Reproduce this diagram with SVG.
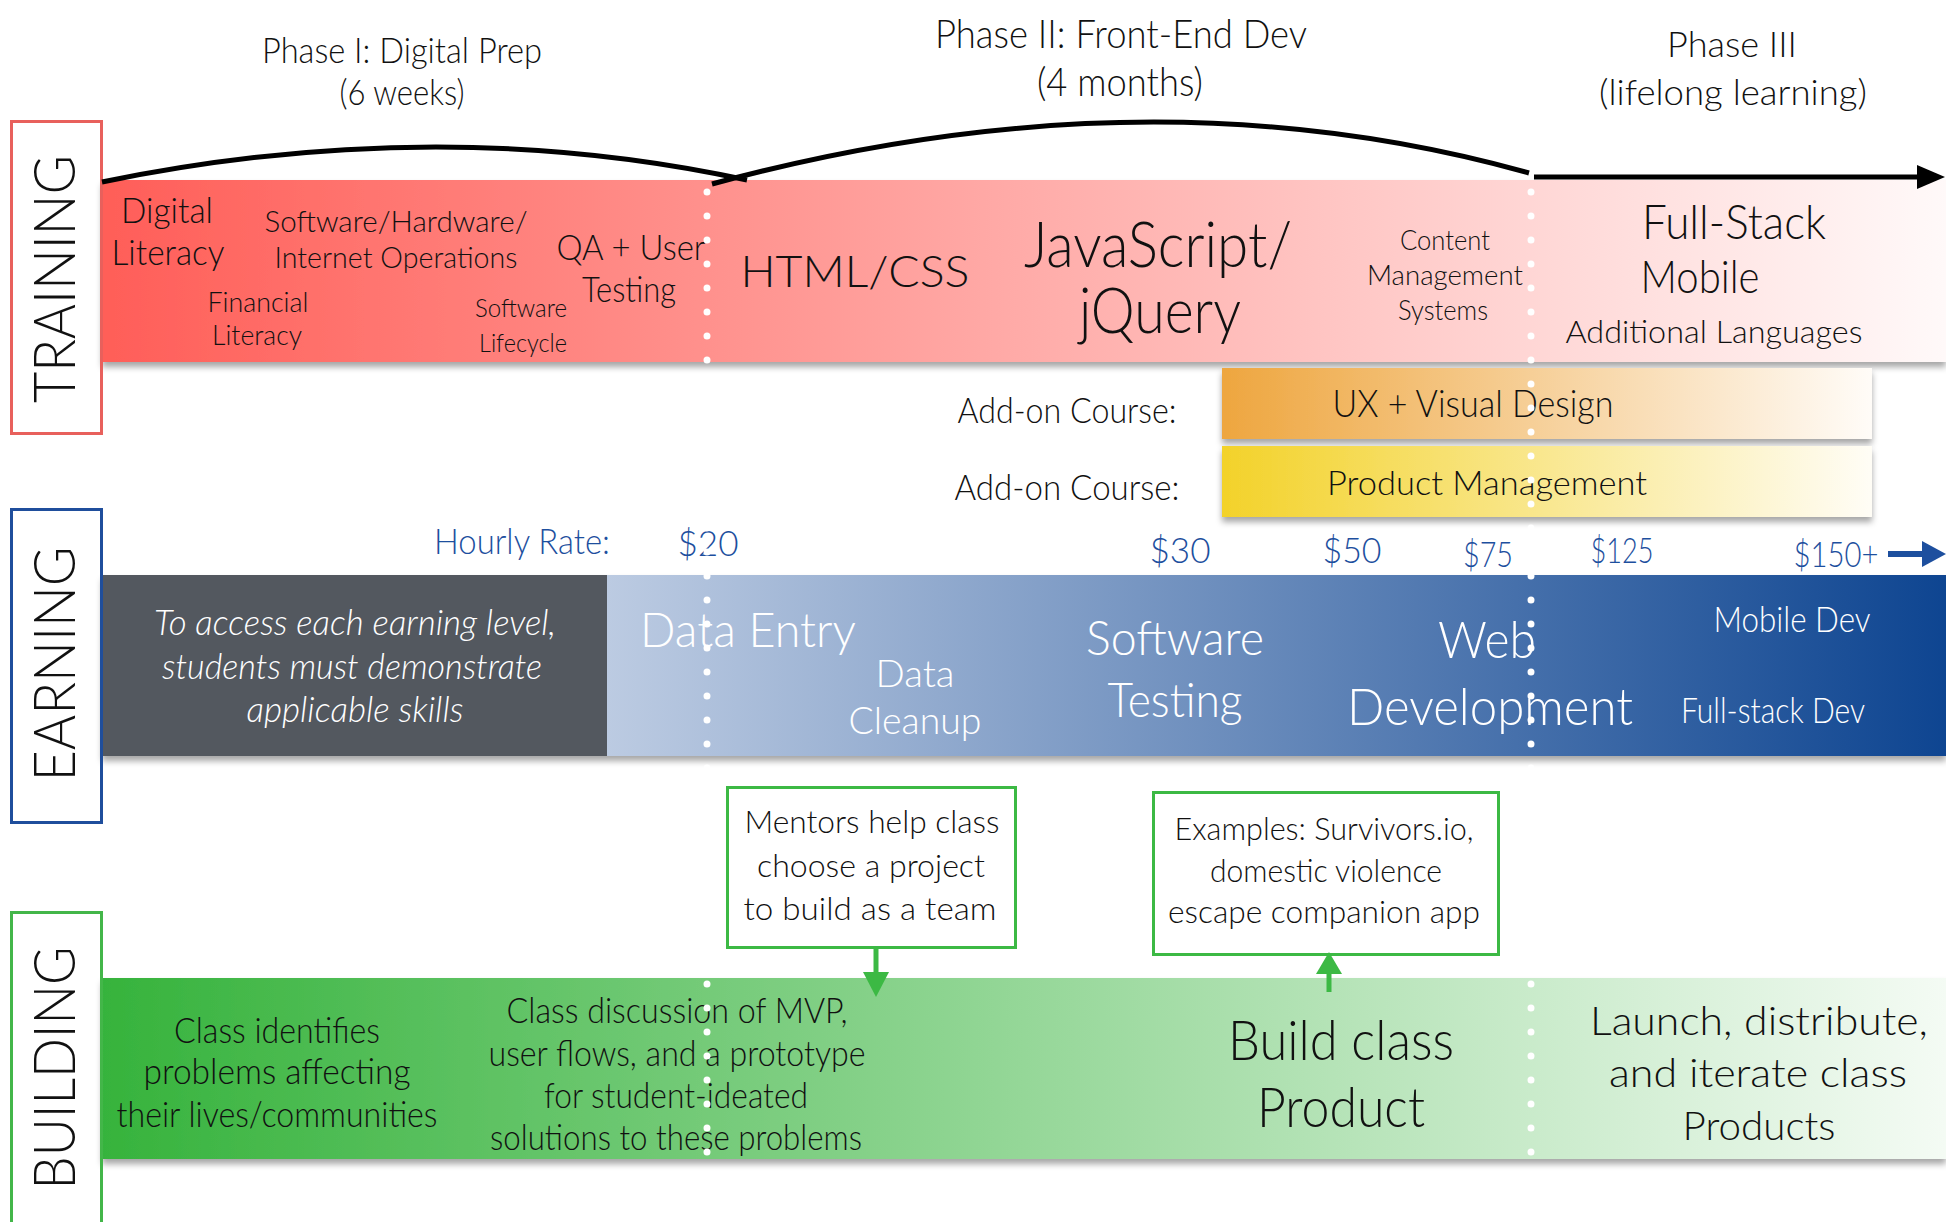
<svg xmlns="http://www.w3.org/2000/svg" width="1946" height="1222" viewBox="0 0 1946 1222">
<style>
text { font-family: Lato, "Open Sans", "Liberation Sans", sans-serif; font-weight: 300; text-anchor: middle; fill: #111; }
.w { fill: #ffffff; }
.b { fill: #1d4f9e; }
.it { font-style: italic; }
.lbl { font-size: 57px; }
.dots { stroke: #ffffff; stroke-width: 7; stroke-linecap: round; stroke-dasharray: 0 24; fill: none; }
.arc { fill: none; stroke: #000; stroke-width: 5; }
.callout { fill: #fff; stroke: #3cb944; stroke-width: 3; }
</style>
<defs>
  <linearGradient id="gT" x1="0" x2="1" y1="0" y2="0">
    <stop offset="0" stop-color="#ff5e58"/>
    <stop offset="1" stop-color="#fff9f9"/>
  </linearGradient>
  <linearGradient id="gE" x1="0" x2="1" y1="0" y2="0">
    <stop offset="0" stop-color="#bccbe2"/>
    <stop offset="1" stop-color="#0e4591"/>
  </linearGradient>
  <linearGradient id="gB" x1="0" x2="1" y1="0" y2="0">
    <stop offset="0" stop-color="#36b33c"/>
    <stop offset="1" stop-color="#f4fbf4"/>
  </linearGradient>
  <linearGradient id="gUX" x1="0" x2="1" y1="0" y2="0">
    <stop offset="0" stop-color="#eea63f"/>
    <stop offset="1" stop-color="#fffcf8"/>
  </linearGradient>
  <linearGradient id="gPM" x1="0" x2="1" y1="0" y2="0">
    <stop offset="0" stop-color="#f3d22a"/>
    <stop offset="1" stop-color="#fffdf6"/>
  </linearGradient>
  <filter id="sh" x="-5%" y="-20%" width="110%" height="150%">
    <feDropShadow dx="0" dy="5" stdDeviation="3" flood-color="#000" flood-opacity="0.35"/>
  </filter>
</defs>
<rect width="1946" height="1222" fill="#fff"/>

<g id="training-band">
  <rect x="102" y="180" width="1844" height="182" fill="url(#gT)" filter="url(#sh)"/>
  <text x="167" y="223" font-size="35" textLength="92" lengthAdjust="spacingAndGlyphs">Digital</text>
  <text x="168" y="265" font-size="35" textLength="113" lengthAdjust="spacingAndGlyphs">Literacy</text>
  <text x="396" y="232" font-size="30" textLength="263" lengthAdjust="spacingAndGlyphs">Software/Hardware/</text>
  <text x="396" y="268" font-size="30" textLength="243" lengthAdjust="spacingAndGlyphs">Internet Operations</text>
  <text x="258" y="312" font-size="27" textLength="101" lengthAdjust="spacingAndGlyphs">Financial</text>
  <text x="257" y="345" font-size="27" textLength="90" lengthAdjust="spacingAndGlyphs">Literacy</text>
  <text x="521" y="317" font-size="25" textLength="92" lengthAdjust="spacingAndGlyphs">Software</text>
  <text x="523" y="352" font-size="25" textLength="88" lengthAdjust="spacingAndGlyphs">Lifecycle</text>
  <text x="631" y="260" font-size="35" textLength="149" lengthAdjust="spacingAndGlyphs">QA + User</text>
  <text x="629" y="302" font-size="35" textLength="94" lengthAdjust="spacingAndGlyphs">Testing</text>
  <text x="855" y="287" font-size="44" textLength="229" lengthAdjust="spacingAndGlyphs">HTML/CSS</text>
  <text x="1158" y="267" font-size="64" textLength="268" lengthAdjust="spacingAndGlyphs">JavaScript/</text>
  <text x="1160" y="333" font-size="64" textLength="162" lengthAdjust="spacingAndGlyphs">jQuery</text>
  <text x="1445" y="250" font-size="28" textLength="90" lengthAdjust="spacingAndGlyphs">Content</text>
  <text x="1445" y="285" font-size="28" textLength="156" lengthAdjust="spacingAndGlyphs">Management</text>
  <text x="1443" y="320" font-size="28" textLength="90" lengthAdjust="spacingAndGlyphs">Systems</text>
  <text x="1734" y="239" font-size="47" textLength="184" lengthAdjust="spacingAndGlyphs">Full-Stack</text>
  <text x="1700" y="293" font-size="46" textLength="119" lengthAdjust="spacingAndGlyphs">Mobile</text>
  <text x="1714" y="343" font-size="32" textLength="297" lengthAdjust="spacingAndGlyphs">Additional Languages</text>
</g>

<g id="addon-ux">
  <rect x="1222" y="368" width="650" height="71" fill="url(#gUX)" filter="url(#sh)"/>
  <text x="1067" y="423" font-size="35" textLength="219" lengthAdjust="spacingAndGlyphs">Add-on Course:</text>
  <text x="1473" y="417" font-size="37" textLength="281" lengthAdjust="spacingAndGlyphs">UX + Visual Design</text>
</g>
<g id="addon-pm">
  <rect x="1222" y="446" width="650" height="71" fill="url(#gPM)" filter="url(#sh)"/>
  <text x="1067" y="500" font-size="35" textLength="225" lengthAdjust="spacingAndGlyphs">Add-on Course:</text>
  <text x="1487" y="495" font-size="34" textLength="320" lengthAdjust="spacingAndGlyphs">Product Management</text>
</g>

<g id="earning-rates">
  <text class="b" x="522" y="554" font-size="35" textLength="176" lengthAdjust="spacingAndGlyphs">Hourly Rate:</text>
  <text class="b" x="708" y="556" font-size="35" textLength="61" lengthAdjust="spacingAndGlyphs">$20</text>
  <text class="b" x="1180" y="563" font-size="35" textLength="61" lengthAdjust="spacingAndGlyphs">$30</text>
  <text class="b" x="1352" y="563" font-size="35" textLength="59" lengthAdjust="spacingAndGlyphs">$50</text>
  <text class="b" x="1488" y="567" font-size="35" textLength="50" lengthAdjust="spacingAndGlyphs">$75</text>
  <text class="b" x="1622" y="563" font-size="35" textLength="63" lengthAdjust="spacingAndGlyphs">$125</text>
  <text class="b" x="1836" y="567" font-size="35" textLength="85" lengthAdjust="spacingAndGlyphs">$150+</text>
</g>

<g id="earning-band">
  <rect x="102" y="575" width="1844" height="181" fill="#53585f" filter="url(#sh)"/>
  <rect x="607" y="575" width="1339" height="181" fill="url(#gE)"/>
  <text class="w it" x="355" y="635" font-size="35" textLength="402" lengthAdjust="spacingAndGlyphs">To access each earning level,</text>
  <text class="w it" x="352" y="679" font-size="35" textLength="380" lengthAdjust="spacingAndGlyphs">students must demonstrate</text>
  <text class="w it" x="355" y="722" font-size="35" textLength="217" lengthAdjust="spacingAndGlyphs">applicable skills</text>
  <text class="w" x="748" y="647" font-size="47" textLength="216" lengthAdjust="spacingAndGlyphs">Data Entry</text>
  <text class="w" x="915" y="687" font-size="38" textLength="79" lengthAdjust="spacingAndGlyphs">Data</text>
  <text class="w" x="915" y="734" font-size="38" textLength="133" lengthAdjust="spacingAndGlyphs">Cleanup</text>
  <text class="w" x="1175" y="655" font-size="48" textLength="178" lengthAdjust="spacingAndGlyphs">Software</text>
  <text class="w" x="1175" y="717" font-size="48" textLength="135" lengthAdjust="spacingAndGlyphs">Testing</text>
  <text class="w" x="1487" y="658" font-size="52" textLength="98" lengthAdjust="spacingAndGlyphs">Web</text>
  <text class="w" x="1490" y="725" font-size="52" textLength="286" lengthAdjust="spacingAndGlyphs">Development</text>
  <text class="w" x="1792" y="632" font-size="35" textLength="157" lengthAdjust="spacingAndGlyphs">Mobile Dev</text>
  <text class="w" x="1773" y="723" font-size="35" textLength="184" lengthAdjust="spacingAndGlyphs">Full-stack Dev</text>
</g>

<g id="building-band">
  <rect x="102" y="978" width="1844" height="181" fill="url(#gB)" filter="url(#sh)"/>
  <text x="277" y="1043" font-size="36" textLength="206" lengthAdjust="spacingAndGlyphs">Class identifies</text>
  <text x="277" y="1084" font-size="36" textLength="267" lengthAdjust="spacingAndGlyphs">problems affecting</text>
  <text x="277" y="1127" font-size="36" textLength="321" lengthAdjust="spacingAndGlyphs">their lives/communities</text>
  <text x="677" y="1023" font-size="35" textLength="341" lengthAdjust="spacingAndGlyphs">Class discussion of MVP,</text>
  <text x="677" y="1066" font-size="35" textLength="377" lengthAdjust="spacingAndGlyphs">user flows, and a prototype</text>
  <text x="676" y="1108" font-size="35" textLength="264" lengthAdjust="spacingAndGlyphs">for student-ideated</text>
  <text x="676" y="1150" font-size="35" textLength="372" lengthAdjust="spacingAndGlyphs">solutions to these problems</text>
  <text x="1341" y="1060" font-size="55" textLength="226" lengthAdjust="spacingAndGlyphs">Build class</text>
  <text x="1341" y="1127" font-size="55" textLength="168" lengthAdjust="spacingAndGlyphs">Product</text>
  <text x="1759" y="1035" font-size="40" textLength="338" lengthAdjust="spacingAndGlyphs">Launch, distribute,</text>
  <text x="1758" y="1087" font-size="40" textLength="298" lengthAdjust="spacingAndGlyphs">and iterate class</text>
  <text x="1759" y="1140" font-size="40" textLength="153" lengthAdjust="spacingAndGlyphs">Products</text>
</g>

<g id="phase-labels">
  <text x="402" y="63" font-size="35" textLength="280" lengthAdjust="spacingAndGlyphs">Phase I: Digital Prep</text>
  <text x="402" y="105" font-size="35" textLength="125" lengthAdjust="spacingAndGlyphs">(6 weeks)</text>
  <text x="1121" y="48" font-size="39" textLength="372" lengthAdjust="spacingAndGlyphs">Phase II: Front-End Dev</text>
  <text x="1120" y="96" font-size="39" textLength="166" lengthAdjust="spacingAndGlyphs">(4 months)</text>
  <text x="1732" y="57" font-size="35" textLength="130" lengthAdjust="spacingAndGlyphs">Phase III</text>
  <text x="1733" y="105" font-size="35" textLength="268" lengthAdjust="spacingAndGlyphs">(lifelong learning)</text>
</g>

<g id="label-training">
  <rect x="11.5" y="121.5" width="90" height="312" fill="none" stroke="#e8605c" stroke-width="3"/>
  <text class="lbl" transform="translate(75,279) rotate(-90)" textLength="248" lengthAdjust="spacingAndGlyphs">TRAINING</text>
</g>
<g id="label-earning">
  <rect x="11.5" y="509.5" width="90" height="313" fill="none" stroke="#1f4e9c" stroke-width="3"/>
  <text class="lbl" transform="translate(75,664) rotate(-90)" textLength="235" lengthAdjust="spacingAndGlyphs">EARNING</text>
</g>
<g id="label-building">
  <rect x="11.5" y="912.5" width="90" height="340" fill="none" stroke="#43b649" stroke-width="3"/>
  <text class="lbl" transform="translate(75,1068) rotate(-90)" textLength="243" lengthAdjust="spacingAndGlyphs">BUILDING</text>
</g>

<g id="callout-mentors">
  <rect class="callout" x="727.5" y="787.5" width="288" height="160"/>
  <text x="872" y="833" font-size="32" textLength="255" lengthAdjust="spacingAndGlyphs">Mentors help class</text>
  <text x="871" y="877" font-size="32" textLength="228" lengthAdjust="spacingAndGlyphs">choose a project</text>
  <text x="870" y="920" font-size="32" textLength="253" lengthAdjust="spacingAndGlyphs">to build as a team</text>
</g>
<g id="callout-examples">
  <rect class="callout" x="1153.5" y="792.5" width="345" height="162"/>
  <text x="1324" y="840" font-size="32" textLength="299" lengthAdjust="spacingAndGlyphs">Examples: Survivors.io,</text>
  <text x="1326" y="882" font-size="32" textLength="232" lengthAdjust="spacingAndGlyphs">domestic violence</text>
  <text x="1324" y="923" font-size="32" textLength="312" lengthAdjust="spacingAndGlyphs">escape companion app</text>
</g>

<g id="connectors">
  <path class="arc" d="M102,182 Q438,113 747,180"/>
  <path class="arc" d="M712,184 Q1147,66 1529,173"/>
  <line x1="1534" y1="177" x2="1922" y2="177" stroke="#000" stroke-width="5"/>
  <polygon points="1917,165 1945,177 1917,189" fill="#000"/>
  <line x1="1888" y1="554" x2="1926" y2="554" stroke="#1d4f9e" stroke-width="6"/>
  <polygon points="1922,541 1946,554 1922,567" fill="#1d4f9e"/>
  <line x1="876" y1="948" x2="876" y2="975" stroke="#3cb944" stroke-width="5"/>
  <polygon points="863,972 889,972 876,997" fill="#3cb944"/>
  <line x1="1329" y1="992" x2="1329" y2="970" stroke="#3cb944" stroke-width="5"/>
  <polygon points="1316,974 1342,974 1329,952" fill="#3cb944"/>
</g>

<g id="phase-dividers">
  <line class="dots" x1="707" y1="192" x2="707" y2="1160"/>
  <line class="dots" x1="1531" y1="192" x2="1531" y2="1160"/>
</g>
</svg>
